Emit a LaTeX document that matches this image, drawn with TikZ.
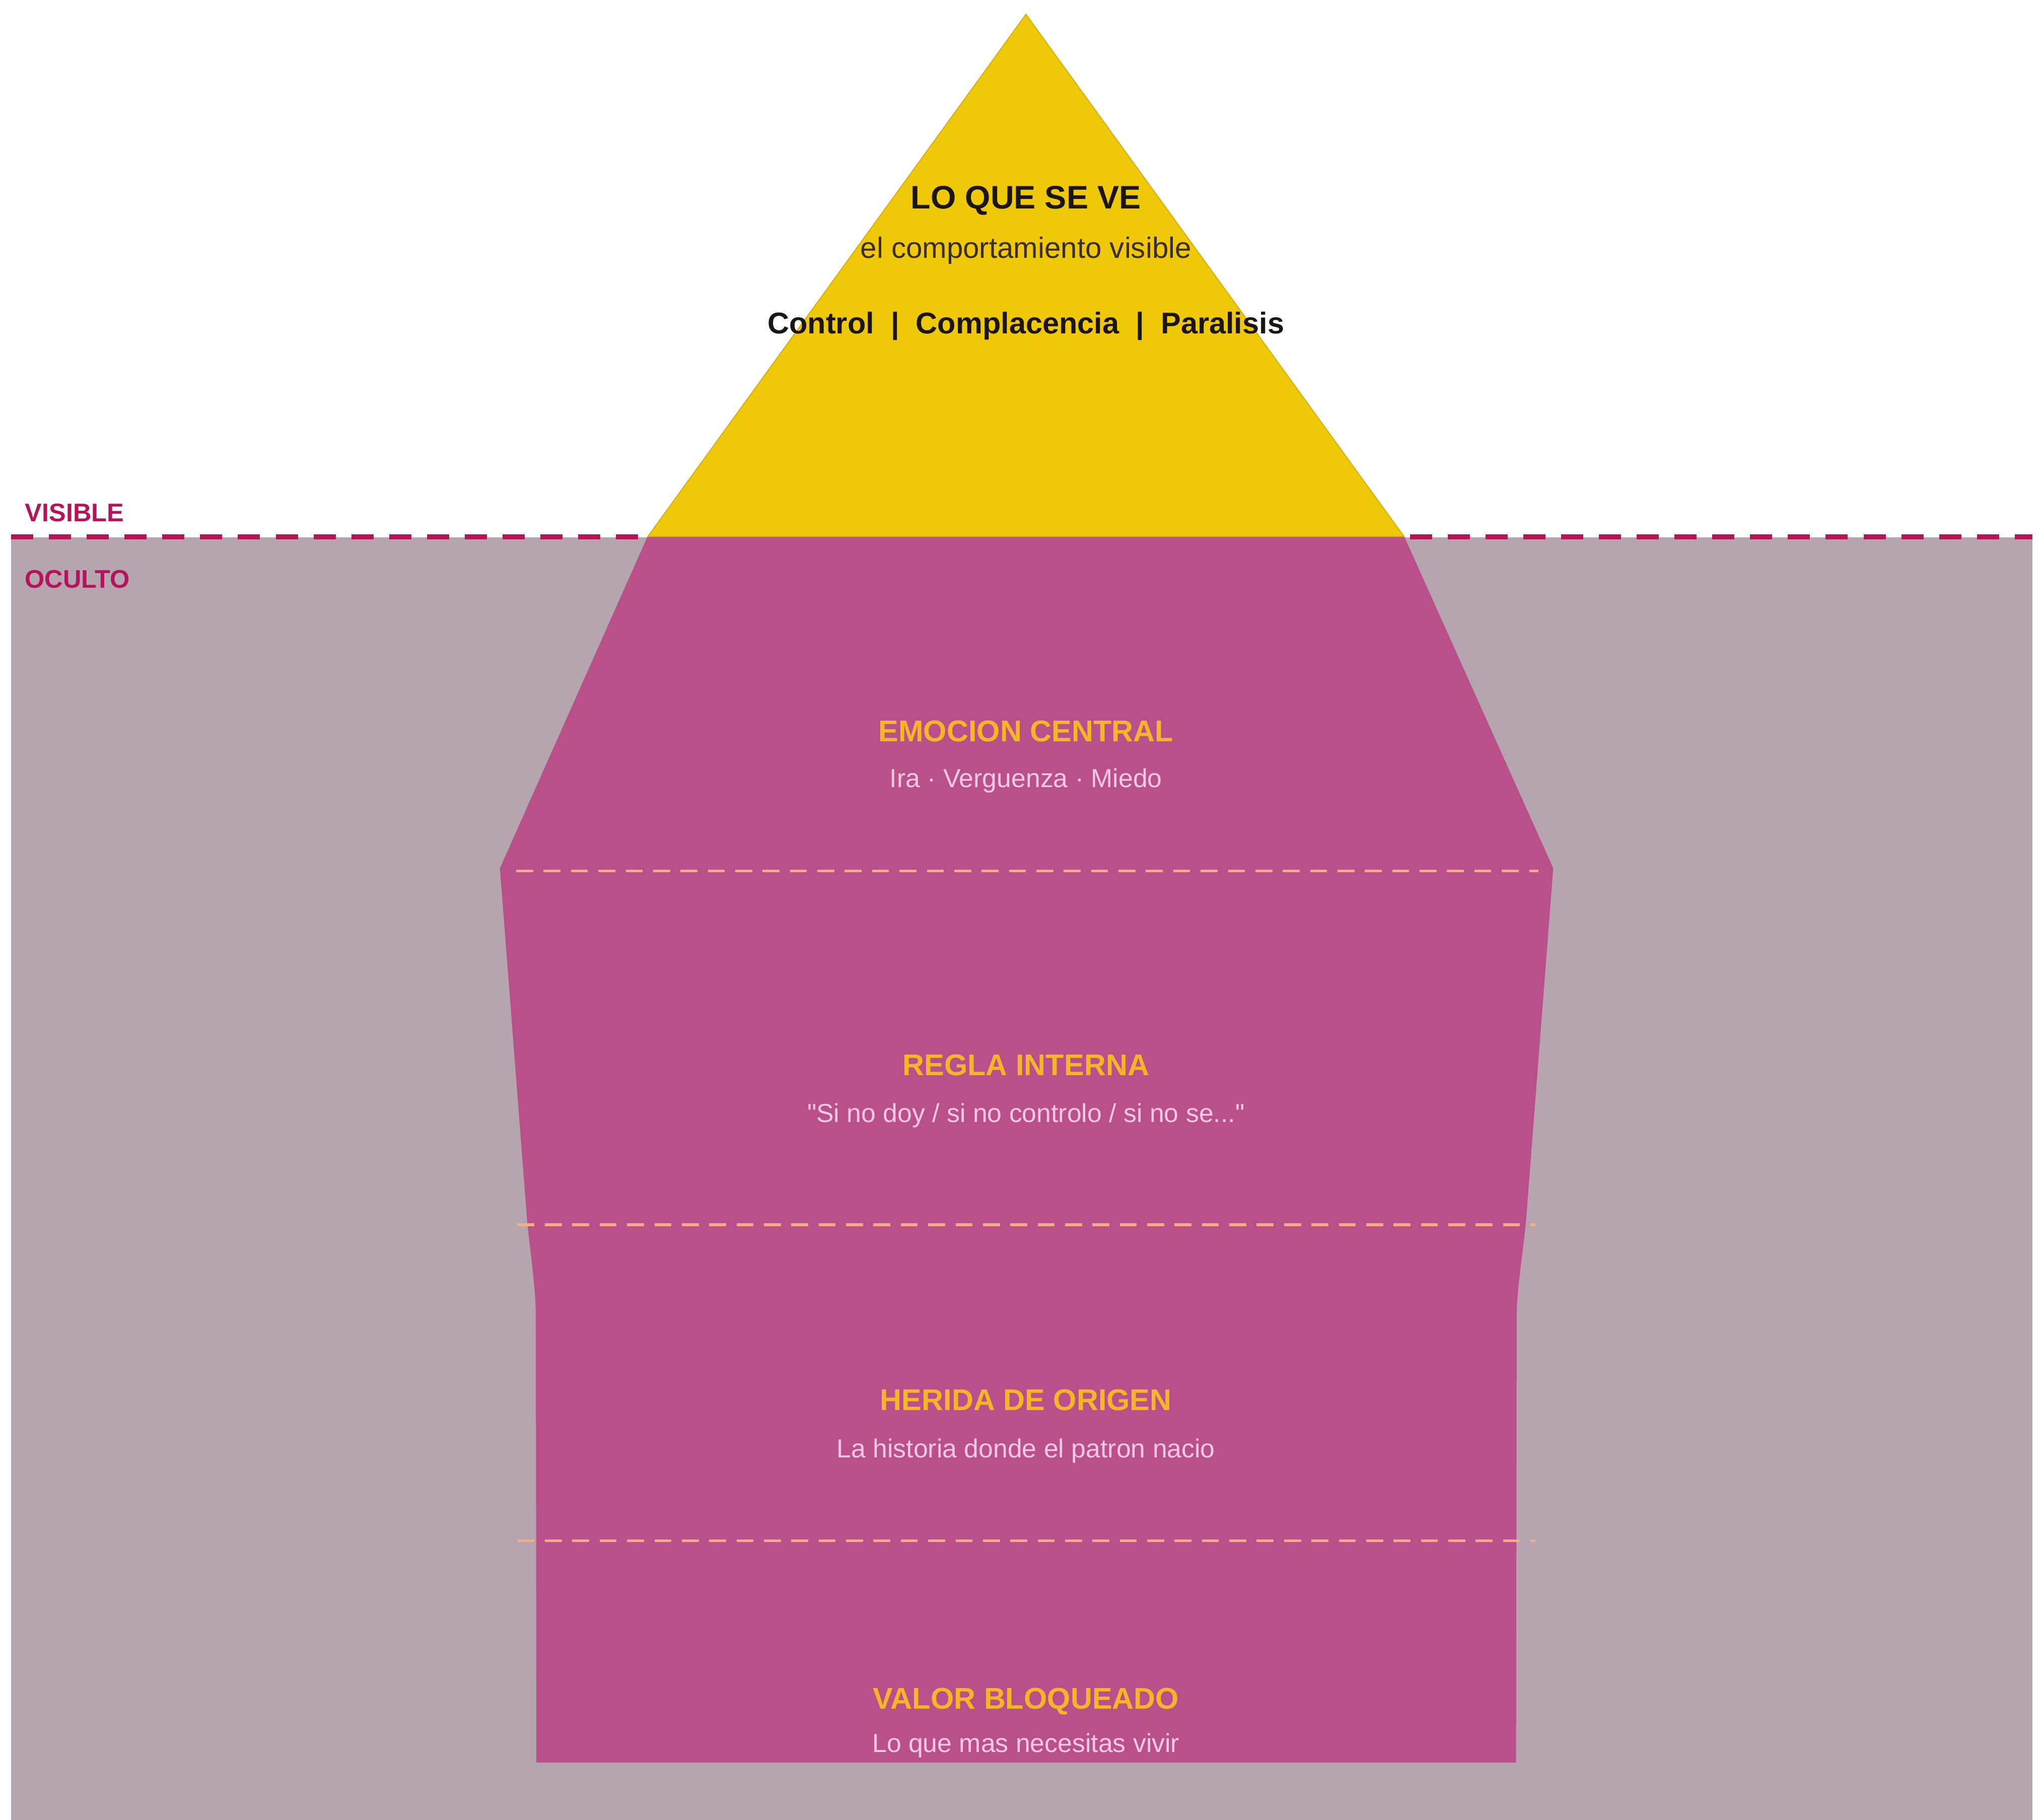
\documentclass[tikz,border=0pt]{standalone}
\usepackage{fontspec}
\setmainfont{Liberation Sans}
\newfontfamily\rawsans[Ligatures=ResetAll]{Liberation Sans}
\definecolor{seagray}{HTML}{B6A4AF}
\definecolor{icepink}{HTML}{B9508A}
\definecolor{tipyellow}{HTML}{F0C80A}
\definecolor{tipedge}{HTML}{D9B200}
\definecolor{wavemag}{HTML}{B3145A}
\definecolor{headyellow}{HTML}{F5B52A}
\definecolor{subpink}{HTML}{F8C8E4}
\definecolor{layerdash}{HTML}{F5AE84}
\definecolor{darktext}{HTML}{1C1612}
\definecolor{softtext}{HTML}{3A2E22}
\begin{document}
\begin{tikzpicture}[x=1pt,y=-1pt,
  hd/.style={font=\fontsize{23}{27}\selectfont\bfseries, text=headyellow, anchor=base, inner sep=0pt},
  sub/.style={font=\fontsize{20}{24}\selectfont, text=subpink, anchor=base, inner sep=0pt},
  side/.style={font=\fontsize{19.5}{23}\selectfont\bfseries, text=wavemag, anchor=base west, inner sep=0pt},
  layerline/.style={draw=layerdash, line width=2pt, dash pattern=on 13pt off 8pt},
  waterline/.style={draw=wavemag, line width=4pt, dash pattern=on 17pt off 12pt}
]
\useasboundingbox (0,0) rectangle (1568,1396);
\fill[white] (0,0) rectangle (1568,1396);
% hidden zone
\fill[seagray] (8.5,412) rectangle (1559,1396);
% water line
\coordinate (wl) at (8.5,411.8);
\coordinate (wr) at (1559,411.8);
\draw[waterline] (wl) -- (wr);
% submerged body
\fill[icepink] (497,411) -- (383.5,666) -- (404.5,938) .. controls (408.5,975) and (411,990) .. (411,1010) -- (411.5,1352)
  -- (1163,1352) -- (1163.5,1010) .. controls (1163.5,990) and (1166.5,975) .. (1170.5,938) -- (1191.5,666) -- (1077,411) -- cycle;
% visible tip
\filldraw[fill=tipyellow, draw=tipedge, line width=0.8pt] (787,11) -- (1077,411.5) -- (497,411.5) -- cycle;
% layer separators
\coordinate (l1a) at (396,668);   \coordinate (l1b) at (1180,668);
\coordinate (l2a) at (397,939.5); \coordinate (l2b) at (1178,939.5);
\coordinate (l3a) at (397,1182);  \coordinate (l3b) at (1178,1182);
\draw[layerline] (l1a) -- (l1b);
\draw[layerline] (l2a) -- (l2b);
\draw[layerline] (l3a) -- (l3b);
% side labels
\node[side] (vis) at (19,400) {VISIBLE};
\node[side] (ocu) at (19,451) {OCULTO};
% tip texts
\node[anchor=base, inner sep=0pt, text=darktext, font=\fontsize{25}{29}\selectfont\bfseries] (tipT) at (787,160) {LO QUE SE VE};
\node[anchor=base, inner sep=0pt, text=softtext, font=\fontsize{22.5}{26}\selectfont] (tipS) at (787,198) {el comportamiento visible};
\node[anchor=base, inner sep=0pt, text=darktext, font=\fontsize{23}{27}\selectfont\bfseries] (tipB) at (787,256) {Control\ \ |\ \ Complacencia\ \ |\ \ Paralisis};
% layers
\node[hd] (h1) at (787,569) {EMOCION CENTRAL};
\node[sub] (s1) at (787,604) {Ira · Verguenza · Miedo};
\node[hd] (h2) at (787,825) {REGLA INTERNA};
\node[sub, font=\fontsize{20}{24}\rawsans] (s2) at (787,861) {"Si no doy / si no controlo / si no se..."};
\node[hd] (h3) at (787,1082) {HERIDA DE ORIGEN};
\node[sub] (s3) at (787,1118) {La historia donde el patron nacio};
\node[hd] (h4) at (787,1311) {VALOR BLOQUEADO};
\node[sub] (s4) at (787,1344) {Lo que mas necesitas vivir};
\end{tikzpicture}
\end{document}
